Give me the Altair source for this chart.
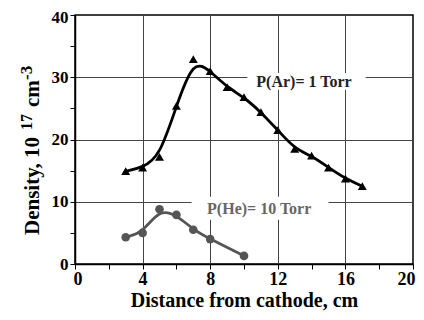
import altair as alt
import pandas as pd

# Ar, 1 Torr
ar_x = [3, 4, 5, 6, 7, 8, 9, 10, 11, 12, 13, 14, 15, 16, 17]
ar_y = [14.9, 15.5, 17.2, 25.4, 32.9, 31.0, 28.4, 26.8, 24.4, 21.5, 18.5, 17.4, 15.5, 13.7, 12.5]
# He, 10 Torr
he_x = [3, 4, 5, 6, 7, 8, 10]
he_y = [4.3, 5.0, 8.8, 7.9, 5.5, 4.0, 1.3]

label_text = ["P(Ar)= 1 Torr", "P(He)= 10 Torr"]
label_x = [13.55, 10.9]
label_y = [29.3, 8.85]
label_color = ["#222222", "#666666"]
box_x = [10.2, 6.9]
box_x2 = [17.2, 15.0]
box_y = [28.0, 7.1]
box_y2 = [30.7, 10.8]

# y-axis title pieces (text, font size, offset along the axis, offset across)
ytitle_text = ["Density, 10", "17", "cm", "-3"]
ytitle_size = [21, 16, 21, 17]
ytitle_y = [220, 115, 92, 65]
ytitle_x = [-36, -43, -36, -43]

ar = pd.DataFrame({"x": ar_x, "y": ar_y})
he = pd.DataFrame({"x": he_x, "y": he_y})
labels = pd.DataFrame({"t": label_text, "x": label_x, "y": label_y, "c": label_color,
                       "x1": box_x, "x2": box_x2, "y1": box_y, "y2": box_y2})

FONT = "Liberation Serif"

xscale = alt.Scale(domain=[0, 20], nice=False, zero=False)
yscale = alt.Scale(domain=[0, 40], nice=False)

xaxis = alt.Axis(
    values=list(range(0, 21, 2)),
    labelExpr="datum.value % 4 == 0 ? datum.label : ''",
    gridOpacity={"condition": {"test": "datum.value % 4 != 0 || datum.value == 0 || datum.value == 20", "value": 0}, "value": 1},
    title="Distance from cathode, cm",
    grid=True, gridColor="#444444", gridWidth=1,
    domainColor="black", domainWidth=1.5, tickColor="black", tickSize=5,
    labelFont=FONT, labelFontWeight="bold", labelFontSize=18, labelColor="black", labelPadding=1,
    titleFont=FONT, titleFontWeight="bold", titleFontSize=20, titleColor="black", titlePadding=2,
    labelFlush=True, labelFlushOffset=2,
)
yaxis = alt.Axis(
    values=list(range(0, 41, 5)),
    labelExpr="datum.value % 10 == 0 ? datum.label : ''",
    gridOpacity={"condition": {"test": "datum.value % 10 != 0 || datum.value == 0 || datum.value == 40", "value": 0}, "value": 1},
    labelOffset={"condition": {"test": "datum.value == 40", "value": 2}, "value": 0},
    title="",
    grid=True, gridColor="#444444", gridWidth=1,
    domainColor="black", domainWidth=1.5, tickColor="black", tickSize=5,
    labelFont=FONT, labelFontWeight="bold", labelFontSize=17, labelColor="black", labelPadding=2,
    labelFlush=False,
)

X = alt.X("x:Q", scale=xscale, axis=xaxis)
Y = alt.Y("y:Q", scale=yscale, axis=yaxis)

boxes = alt.Chart(labels).mark_rect(color="white").encode(
    x=alt.X("x1:Q", scale=xscale, axis=xaxis), x2="x2:Q",
    y=alt.Y("y1:Q", scale=yscale, axis=yaxis), y2="y2:Q",
)

ar_line = alt.Chart(ar).mark_line(color="black", strokeWidth=2.8, interpolate="basis").encode(x=X, y=Y)
ar_pts = alt.Chart(ar).mark_point(shape="triangle-up", filled=True, color="black", size=80, opacity=1).encode(x=X, y=Y)
he_line = alt.Chart(he).mark_line(color="#555555", strokeWidth=2.8, interpolate="basis").encode(x=X, y=Y)
he_pts = alt.Chart(he).mark_point(shape="circle", filled=True, color="#555555", size=75, opacity=1).encode(x=X, y=Y)

texts = alt.Chart(labels).mark_text(font=FONT, fontWeight="bold", fontSize=16).encode(
    x=X, y=Y, text="t:N", color=alt.Color("c:N", scale=None)
)

ytitle_layers = [
    alt.Chart(ar).mark_text(
        text=t, font=FONT, fontWeight="bold", fontSize=s, angle=270,
        align="left", baseline="alphabetic", color="black",
    ).encode(x=alt.value(px), y=alt.value(py)).transform_filter("datum.x == 3")
    for t, s, px, py in zip(ytitle_text, ytitle_size, ytitle_x, ytitle_y)
]

chart = alt.layer(boxes, he_line, he_pts, ar_line, ar_pts, texts, *ytitle_layers).properties(
    width=338, height=249,
    autosize="none",
    padding={"left": 67, "top": 7, "right": 3, "bottom": 48},
    background="white",
).configure_view(stroke="black", strokeWidth=1.5)

chart.save("out.html", embed_options={"renderer": "svg", "actions": False})
